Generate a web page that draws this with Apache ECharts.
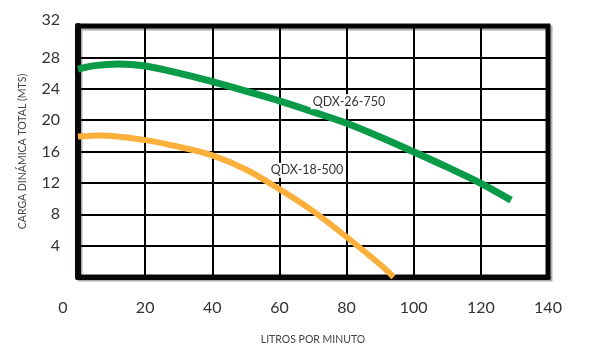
<!DOCTYPE html>
<html>
<head>
<meta charset="utf-8">
<script src="https://cdn.jsdelivr.net/npm/echarts@6/dist/echarts.min.js"></script>
<style>
html,body{margin:0;padding:0;background:#fff;}
#c{width:593px;height:350px;}
</style>
</head>
<body>
<div id="c"></div>
<script>
var xTicks = [0, 20, 40, 60, 80, 100, 120, 140];
var yTicks = [4, 8, 12, 16, 20, 24, 28, 32];
var greenName = 'QDX-26-750';
var greenX = [0, 5, 12, 20, 30, 40, 50, 60, 70, 80, 90, 100, 110, 120, 129];
var greenY = [26.5, 26.95, 27.15, 26.9, 26.0, 24.9, 23.7, 22.45, 21.05, 19.6, 17.85, 15.95, 14.0, 11.95, 9.8];
var orangeName = 'QDX-18-500';
var orangeX = [0, 7, 20, 30, 40, 50, 60, 70, 80, 90, 94];
var orangeY = [17.9, 18.05, 17.45, 16.6, 15.5, 13.7, 11.2, 8.4, 5.1, 1.6, 0];
var greenLabelAt = [80.7, 22.35];
var orangeLabelAt = [68.2, 13.6];
var xName = 'LITROS POR MINUTO';
var yName = 'CARGA DINÁMICA TOTAL (MTS)';

function pairs(xs, ys) { return xs.map(function (x, i) { return [x, ys[i]]; }); }

var FONT = 'Lato, "Noto Sans", sans-serif';
var chart = echarts.init(document.getElementById('c'), null, {renderer: 'canvas'});
function labelPoint(name, at) {
  return {
    symbol: 'rect', symbolSize: 0, silent: true,
    data: [{coord: at, name: name}],
    label: {show: true, formatter: '{b}', color: '#333', fontSize: 12.5, fontFamily: FONT,
      backgroundColor: '#fff', padding: [1, 2, 1, 2]}
  };
}
chart.setOption({
  animation: false,
  backgroundColor: '#fff',
  grid: {left: 78, right: 45, top: 26, bottom: 71, show: true, borderWidth: 5, borderColor: '#0a070b',
    backgroundColor: '#fff', shadowColor: 'rgba(120,120,120,0.6)', shadowOffsetX: 2, shadowOffsetY: 2, shadowBlur: 0},
  xAxis: {
    type: 'value', min: 0, max: 140, interval: 20,
    name: xName, nameLocation: 'middle', nameGap: 57,
    nameTextStyle: {color: '#444', fontSize: 10.5, fontFamily: FONT},
    axisLine: {show: true, lineStyle: {color: '#0a070b', width: 5}},
    axisTick: {show: false},
    splitLine: {show: true, lineStyle: {color: '#000', width: 2}},
    axisLabel: {
      color: '#333', fontSize: 16, fontFamily: FONT, margin: 23,
      formatter: function (v) { return xTicks.indexOf(v) < 0 ? '' : (v === 0 ? '{z|0}' : String(v)); },
      rich: {z: {color: '#333', fontSize: 16, fontFamily: FONT, padding: [0, 30, 0, 0]}}
    }
  },
  yAxis: {
    type: 'value', min: 0, max: 32, interval: 4,
    name: yName, nameLocation: 'middle', nameGap: 50, nameRotate: 90,
    nameTextStyle: {color: '#444', fontSize: 10.5, fontFamily: FONT},
    axisLine: {show: true, lineStyle: {color: '#0a070b', width: 6}},
    axisTick: {show: false},
    splitLine: {show: true, lineStyle: {color: '#000', width: 2}},
    axisLabel: {
      color: '#333', fontSize: 16, fontFamily: FONT, margin: 18,
      formatter: function (v) { return yTicks.indexOf(v) < 0 ? '' : (v === 32 ? '{t|32}' : String(v)); },
      rich: {t: {color: '#333', fontSize: 16, fontFamily: FONT, padding: [0, 0, 12, 0]}}
    }
  },
  series: [
    {type: 'line', name: greenName, data: pairs(greenX, greenY), smooth: 0.35, showSymbol: false,
      lineStyle: {color: '#0a9b48', width: 7}, z: 3, markPoint: labelPoint(greenName, greenLabelAt)},
    {type: 'line', name: orangeName, data: pairs(orangeX, orangeY), smooth: 0.35, showSymbol: false,
      lineStyle: {color: '#fbb03b', width: 6}, z: 3, markPoint: labelPoint(orangeName, orangeLabelAt)}
  ]
});
</script>
</body>
</html>
